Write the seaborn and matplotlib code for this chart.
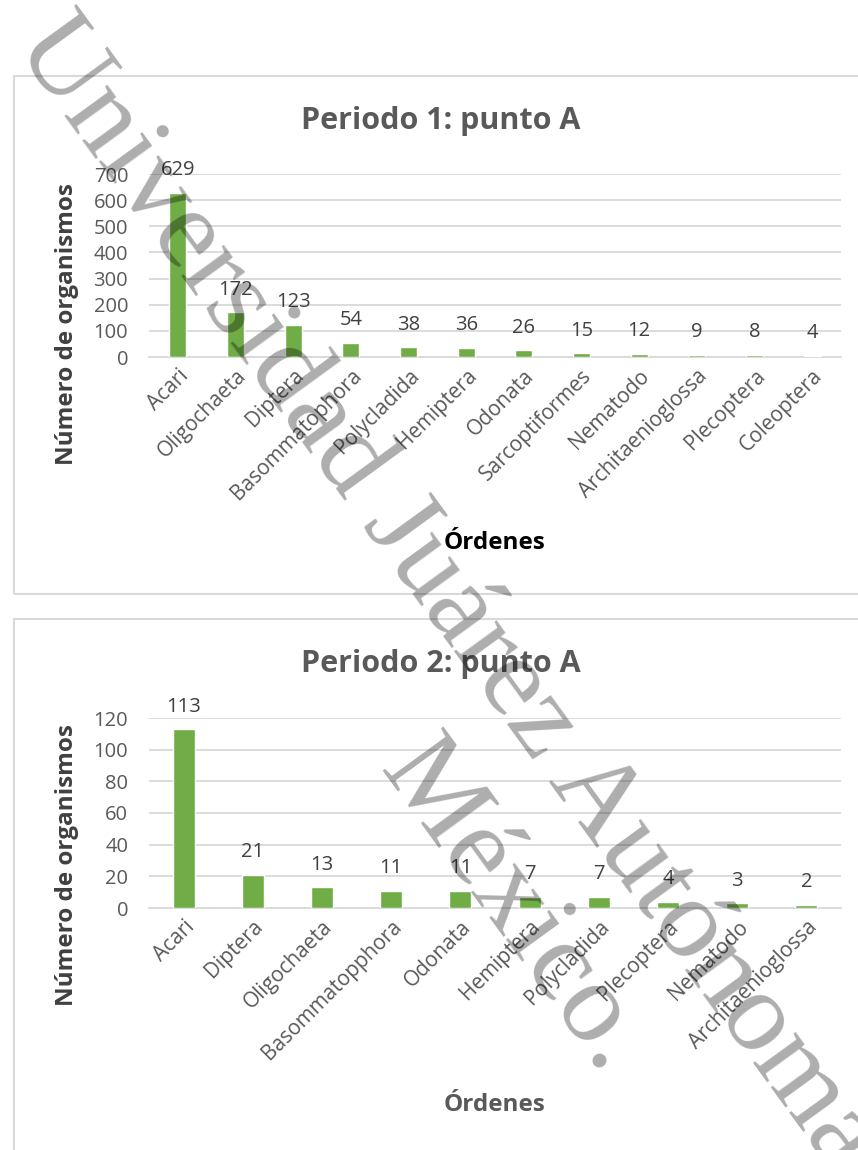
import matplotlib
matplotlib.use("Agg")
import matplotlib.pyplot as plt
import matplotlib.patches as mpatches
import seaborn as sns

# Periodo 1: punto A
orders_p1 = ["Acari", "Oligochaeta", "Diptera", "Basommatophora", "Polycladida",
             "Hemiptera", "Odonata", "Sarcoptiformes", "Nematodo",
             "Architaenioglossa", "Plecoptera", "Coleoptera"]
counts_p1 = [629, 172, 123, 54, 38, 36, 26, 15, 12, 9, 8, 4]
yticks_p1 = [0, 100, 200, 300, 400, 500, 600, 700]

# Periodo 2: punto A
orders_p2 = ["Acari", "Diptera", "Oligochaeta", "Basommatopphora", "Odonata",
             "Hemiptera", "Polycladida", "Plecoptera", "Nematodo",
             "Architaenioglossa"]
counts_p2 = [113, 21, 13, 11, 11, 7, 7, 4, 3, 2]
yticks_p2 = [0, 20, 40, 60, 80, 100, 120]

titles = ["Periodo 1: punto A", "Periodo 2: punto A"]
ylabel = "Número de organismos"
xlabel = "Órdenes"
watermark_lines = ["Universidad Juárez Autónoma de Tabasco.", "México."]

sns.set_theme(style="white")
plt.rcParams["font.family"] = ["Open Sans", "DejaVu Sans"]

W, H = 858, 1150
fig = plt.figure(figsize=(W / 100, H / 100), dpi=100)
fig.patch.set_facecolor("white")

GREEN = "#70AD47"
GRID = "#D9D9D9"
TXT = "#595959"


def fx(px):
    return px / W


def fy(py):
    return 1 - py / H


def chart(box_top, box_bottom, plot_top, plot_bottom, cats, vals, ticks,
          title, title_y, ylab_y, xlab_y, xlab_color, bar_w):
    # outer chart frame
    fig.add_artist(mpatches.Rectangle((fx(14), fy(box_bottom)), fx(900), (box_bottom - box_top) / H,
                                      transform=fig.transFigure, facecolor="none",
                                      edgecolor=GRID, lw=1.5, zorder=0))
    ax = fig.add_axes([fx(149), fy(plot_bottom), fx(841 - 149), (plot_bottom - plot_top) / H])
    sns.barplot(x=cats, y=vals, color=GREEN, saturation=1, width=bar_w, ax=ax, zorder=3)
    ax.set_ylim(ticks[0], ticks[-1])
    ax.set_yticks(ticks)
    ax.yaxis.grid(True, color=GRID, lw=1.3, zorder=0)
    ax.set_axisbelow(True)
    for s in ["top", "right", "left"]:
        ax.spines[s].set_visible(False)
    ax.spines["bottom"].set_color(GRID)
    ax.spines["bottom"].set_linewidth(1.3)
    ax.tick_params(axis="both", length=0, labelsize=14.5, labelcolor=TXT)
    ax.tick_params(axis="y", pad=15)
    ax.tick_params(axis="x", pad=6)
    ax.set_xticks(range(len(cats)))
    ax.set_xticklabels(cats, rotation=45, ha="right", rotation_mode="anchor", fontsize=15)
    ax.set_xlabel("")
    ax.set_ylabel("")
    for c in ax.containers:
        ax.bar_label(c, labels=[str(v) for v in vals], padding=9, fontsize=14.5, color="#404040")
    fig.text(fx(441), fy(title_y), title, ha="center", va="center", fontsize=22,
             fontweight="bold", color=TXT)
    fig.text(fx(67), fy(ylab_y), ylabel, ha="center", va="center", rotation=90,
             fontsize=17.5, fontweight="bold", color="#404040")
    fig.text(fx(495), fy(xlab_y), xlabel, ha="center", va="center", fontsize=17.5,
             fontweight="bold", color=xlab_color)
    return ax


chart(76, 594, 174, 357, orders_p1, counts_p1, yticks_p1, titles[0], 121, 324, 543, "black", 0.3)
chart(619, 1200, 718, 908, orders_p2, counts_p2, yticks_p2, titles[1], 664, 865, 1105, TXT, 0.32)

# diagonal institutional watermark
wm_kw = dict(rotation=-54, rotation_mode="anchor", ha="left", va="baseline",
             fontsize=83, family="Liberation Serif", color="black", alpha=0.32, zorder=10)
fig.text(fx(14), fy(46), watermark_lines[0], **wm_kw)
fig.text(fx(378), fy(770), watermark_lines[1], **wm_kw)

fig.savefig("out.png", dpi=100, facecolor="white")
